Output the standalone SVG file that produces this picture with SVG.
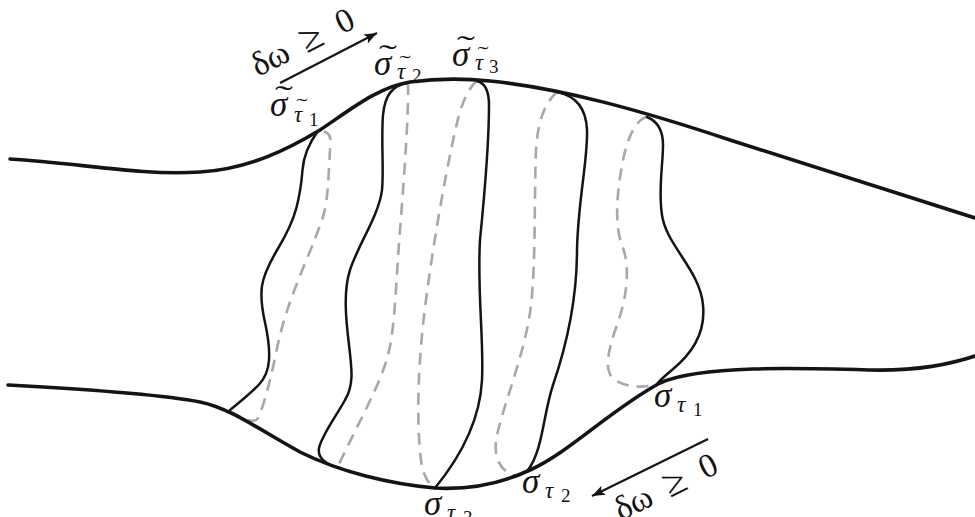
<svg xmlns="http://www.w3.org/2000/svg" width="975" height="517" viewBox="0 0 975 517">
<defs>
<style>
.bd{fill:none;stroke:#141414;stroke-width:3.6;stroke-linecap:round;stroke-linejoin:round}
.cs{fill:none;stroke:#141414;stroke-width:2.5;stroke-linecap:round}
.bk{fill:none;stroke:#a8a8a8;stroke-width:2.6;stroke-dasharray:12 8}
.ar{fill:none;stroke:#141414;stroke-width:2.2}
.m{font-family:"Liberation Serif","DejaVu Serif",serif;fill:#141414}
.s{font-size:35px;font-style:italic}
.sub{font-size:23px;font-style:italic}
.num{font-size:19px}
.til{font-size:30px}
.ts{font-size:22px}
.dw{font-size:34px}
.ge{font-size:40px}
</style>
<marker id="ah" markerUnits="userSpaceOnUse" markerWidth="16" markerHeight="12" refX="13" refY="5" orient="auto">
<path d="M0,0 L13,5 L0,10 L3,5 Z" fill="#141414"/>
</marker>
</defs>
<rect width="975" height="517" fill="#ffffff"/>

<g id="back-sections">
<path class="bk" d="M230,411 Q254,426 258,418 Q262,410 267,391.5 Q272,373 276,353 Q280,333 286,314 Q292,295 305,263.5 Q318,232 322.5,218.5 Q327,205 328.5,177.5 Q330,150 330.5,142 Q331,131 320,131"/>
<path class="bk" d="M408,83 C409,110 404,180 400,230 C396,280 395,330 388,355 C380,385 360,420 338,466"/>
<path class="bk" d="M477,81 C470,86 464,98 459,115 C450,150 435,230 426,300 C418,360 416,420 421,460 C423,475 428,484 435,488"/>
<path class="bk" d="M557,92 C548,100 538,115 536,150 C534,200 536,260 531,305 C526,350 505,400 497,435 C493,455 498,470 515,476"/>
<path class="bk" d="M647,117 C637,119 628,135 623,160 C617,190 614,225 622,245 C630,265 628,295 617,325 C608,350 603,372 615,380 C628,388 645,388 657,384"/>
</g>

<g id="front-sections">
<path class="cs" d="M318,131 Q304,150 302.5,170 Q301,190 296.5,207.5 Q292,225 278,248.5 Q264,272 262,286 Q260,300 265,322.5 Q270,345 269,360 Q268,375 259,384.5 Q250,394 230,410"/>
<path class="cs" d="M407,83 C392,86 385,95 383,115 C381,140 384,170 382,190 C379,215 358,245 350,270 C343,292 346,320 349,345 C352,370 354,385 345,400 C335,418 322,435 319,448 C317,460 328,465 340,468"/>
<path class="cs" d="M477,81 C485,83 489,90 489,105 C489,140 484,200 480,240 C477,290 484,340 482,380 C480,420 462,455 435,488"/>
<path class="cs" d="M557,92 C572,95 586,105 587,130 C588,160 578,200 577,250 C577,300 565,350 553,385 C543,415 543,450 528,470"/>
<path class="cs" d="M647,117 C657,121 663,130 663,145 C663,165 658,190 662,215 C666,245 700,270 703,305 C706,335 690,355 672,370 C665,376 660,380 657,384"/>
</g>

<g id="boundaries">
<path id="top-edge" class="bd" d="M10,159 C80,163 140,176 200,172 C250,169 290,148 320,130 C350,110 378,87 410,82 C440,78 470,79 490,81 C560,88 640,110 730,140 L975,218"/>
<path id="bottom-edge" class="bd" d="M8,385 C100,390 170,396 200,402 C230,408 260,430 300,452 C340,472 390,484 435,488 C470,490 500,484 530,470 C570,452 610,410 660,383 C700,365 800,368 870,370 C920,371 950,364 975,356"/>
</g>

<g id="connectors">
<line class="ar" x1="280" y1="83" x2="377" y2="33" marker-end="url(#ah)"/>
<line class="ar" x1="708" y1="439" x2="592" y2="496" marker-end="url(#ah)"/>
</g>

<g id="label-dw-top">
<text class="m dw" transform="translate(258,77) rotate(-26.8)"><tspan x="0">δω</tspan><tspan class="ge" x="54" y="1">≥</tspan><tspan x="94" y="0">0</tspan></text>
</g>
<g id="label-dw-bottom">
<text class="m dw" transform="translate(621,521) rotate(-26.2)"><tspan x="0">δω</tspan><tspan class="ge" x="54" y="1">≥</tspan><tspan x="94" y="0">0</tspan></text>
</g>

<g id="label-st1">
<text class="m s" x="270" y="116">σ</text>
<text class="m til" transform="translate(284,106) scale(1.8,1)" text-anchor="middle">˜</text>
<text class="m sub" x="294" y="122">τ</text>
<text class="m ts" transform="translate(302,113) scale(1.5,1)" text-anchor="middle">˜</text>
<text class="m num" x="309" y="126">1</text>
</g>
<g id="label-st2">
<text class="m s" x="374" y="75">σ</text>
<text class="m til" transform="translate(388,65) scale(1.8,1)" text-anchor="middle">˜</text>
<text class="m sub" x="397" y="79">τ</text>
<text class="m ts" transform="translate(405,70) scale(1.5,1)" text-anchor="middle">˜</text>
<text class="m num" x="412" y="82">2</text>
</g>
<g id="label-st3">
<text class="m s" x="452" y="66">σ</text>
<text class="m til" transform="translate(466,56) scale(1.8,1)" text-anchor="middle">˜</text>
<text class="m sub" x="475" y="70">τ</text>
<text class="m ts" transform="translate(483,61) scale(1.5,1)" text-anchor="middle">˜</text>
<text class="m num" x="489" y="73">3</text>
</g>

<g id="label-s1">
<text class="m s" x="654" y="407">σ</text>
<text class="m sub" x="677" y="412">τ</text>
<text class="m num" x="693" y="416">1</text>
</g>
<g id="label-s2">
<text class="m s" x="522" y="493">σ</text>
<text class="m sub" x="545" y="498">τ</text>
<text class="m num" x="561" y="502">2</text>
</g>
<g id="label-s3">
<text class="m s" x="424" y="515">σ</text>
<text class="m sub" x="447" y="520">τ</text>
<text class="m num" x="463" y="524">3</text>
</g>
</svg>
